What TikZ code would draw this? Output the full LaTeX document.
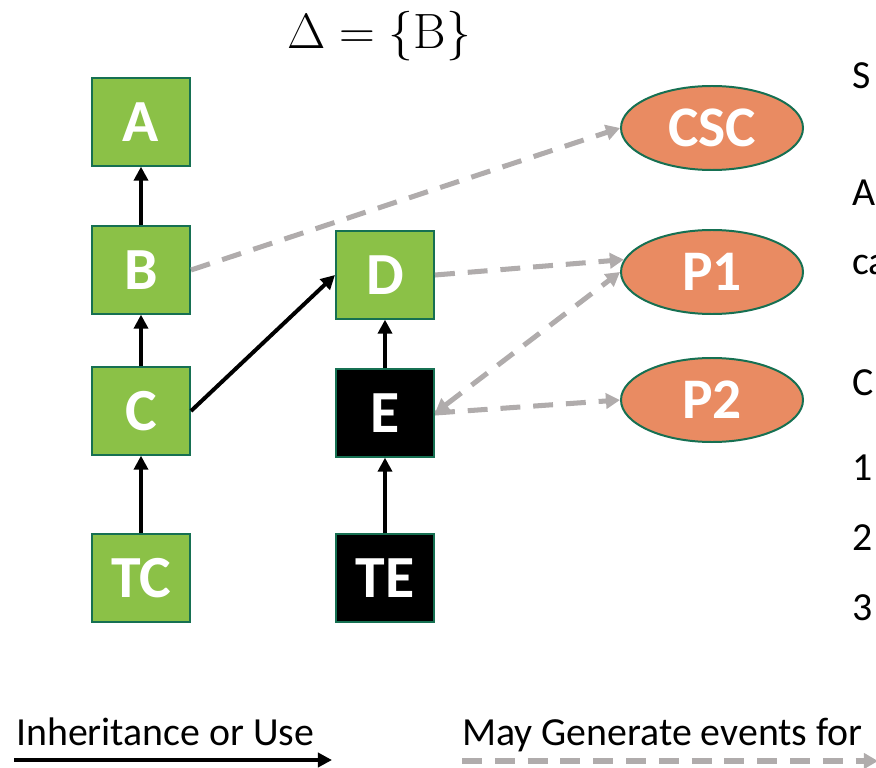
\documentclass[tikz,border=0pt]{standalone}
\usepackage{fontspec}
\newfontfamily\carlito{Carlito}
\usetikzlibrary{shapes.geometric,arrows.meta}

\definecolor{boxgreen}{RGB}{139,193,71}
\definecolor{rimgreen}{RGB}{22,112,82}
\definecolor{evtorange}{RGB}{233,139,98}
\definecolor{evgray}{RGB}{176,172,172}

\begin{document}
\begin{tikzpicture}[x=0.03cm, y=-0.03cm,
  cls/.style={draw=rimgreen, line width=1.7pt, fill=boxgreen, text=white,
    minimum width=2.94cm, minimum height=2.62cm, inner sep=0pt,
    font=\carlito\bfseries\fontsize{51}{58}\selectfont},
  blackcls/.style={cls, fill=black},
  evt/.style={ellipse, draw=rimgreen, line width=1.7pt, fill=evtorange, text=white,
    minimum width=5.46cm, minimum height=2.52cm, inner sep=0pt,
    font=\carlito\bfseries\fontsize{49}{56}\selectfont},
  uses/.style={line width=3.4pt, -{Triangle[length=12pt, width=12pt]}},
  gens/.style={evgray, line width=4.3pt, dash pattern=on 17pt off 11pt,
    -{Triangle[length=12pt, width=13pt]}},
  txt/.style={anchor=base west, inner sep=0pt, font=\carlito\fontsize{34}{41}\selectfont}]
\useasboundingbox (0,0) rectangle (876,768);
\clip (0,0) rectangle (876,768);

\node[scale=2.45] (title) at (379,36) {\LARGE$\Delta=\{\mathrm{B}\}$};

\node[cls] (A) at (141,122) {A};
\node[cls] (B) at (141,270) {B};
\node[cls] (C) at (141,411) {C};
\node[cls] (TC) at (141,578) {TC};
\node[cls] (D) at (385,275) {D};
\node[blackcls] (E) at (385,413) {E};
\node[blackcls] (TE) at (385,578) {TE};

\node[evt] (CSC) at (712,128) {CSC};
\node[evt] (P1) at (712,272) {P1};
\node[evt] (P2) at (712,400) {P2};

\draw[uses] (B) -- (A);
\draw[uses] (C) -- (B);
\draw[uses] (TC) -- (C);
\draw[uses] (C.east) -- (D.west);
\draw[uses] (E) -- (D);
\draw[uses] (TE) -- (E);

\draw[gens] (B.east) -- (CSC.west);
\draw[gens] (D.east) -- (P1.172);
\draw[gens, {Triangle[length=12pt, width=13pt]}-{Triangle[length=12pt, width=13pt]}] (E.east) -- (P1.west);
\draw[gens] (E.east) -- (P2.west);

% cut-off slide text on the right
\node[txt] (s1) at (852,89) {S};
\node[txt] (s2) at (852,206) {A};
\node[txt] (s3) at (852,275) {ca};
\node[txt] (s4) at (852,395) {C};
\node[txt] (s5) at (852,480) {1};
\node[txt] (s6) at (852,550) {2};
\node[txt] (s7) at (852,620) {3};

% legend
\node[txt] (inh) at (16,745) {Inheritance or Use};
\coordinate (inhL) at (14,760);
\coordinate (inhR) at (332,760);
\draw[uses] (inhL) -- (inhR);
\node[txt] (gen) at (462,745) {May Generate events for};
\coordinate (genL) at (462,761);
\coordinate (genR) at (878,761);
\draw[gens] (genL) -- (genR);
\end{tikzpicture}
\end{document}
